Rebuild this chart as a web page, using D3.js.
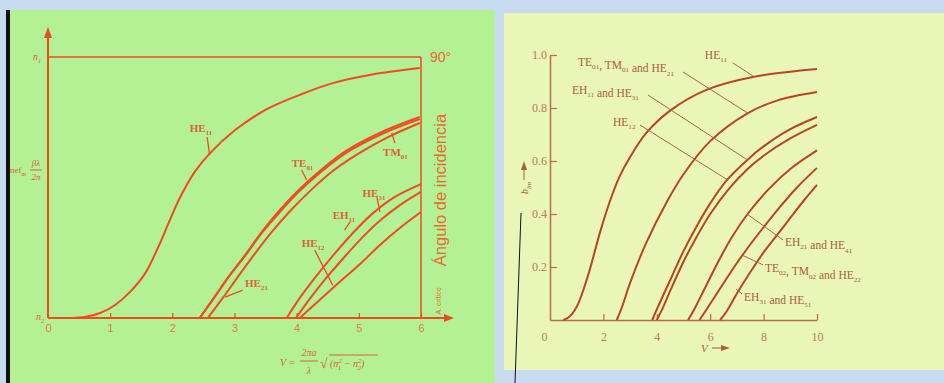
<!DOCTYPE html>
<html>
<head>
<meta charset="utf-8">
<script src="https://cdn.jsdelivr.net/npm/d3@7"></script>
<style>
  body { margin: 0; background: #c8dbf1; }
  svg { display: block; }
</style>
</head>
<body>
<div id="chart"></div>
<script>
// ---- left panel: effective index between n2 (0) and n1 (1) vs V ----
const leftTicks = [0, 1, 2, 3, 4, 5, 6];
const leftHE11 = [[0,0],[0.35,0],[0.59,0.004],[0.84,0.019],[1.08,0.05],[1.32,0.10],[1.56,0.17],[1.77,0.27],[1.96,0.375],[2.12,0.46],[2.36,0.56],[2.6,0.63],[3.01,0.72],[3.52,0.8],[4.05,0.855],[4.58,0.9],[5.26,0.935],[5.98,0.958]];
const leftTE01 = [[2.44,0],[2.67,0.077],[2.89,0.153],[3.17,0.241],[3.44,0.33],[3.73,0.414],[4.05,0.494],[4.41,0.571],[4.82,0.644],[5.37,0.713],[5.98,0.77]];
const leftTM01 = [[2.44,0],[2.67,0.077],[2.89,0.153],[3.17,0.238],[3.44,0.326],[3.73,0.406],[4.05,0.487],[4.41,0.563],[4.82,0.636],[5.37,0.705],[5.98,0.762]];
const leftHE21 = [[2.57,0],[2.8,0.073],[3.04,0.153],[3.31,0.241],[3.6,0.33],[3.91,0.414],[4.23,0.49],[4.58,0.563],[4.98,0.628],[5.47,0.693],[5.98,0.747]];
const leftEH11 = [[3.84,0],[4.05,0.077],[4.29,0.153],[4.58,0.238],[4.89,0.322],[5.21,0.398],[5.58,0.464],[6,0.513]];
const leftHE31 = [[3.99,0],[4.21,0.073],[4.45,0.146],[4.74,0.226],[5.05,0.307],[5.37,0.379],[5.69,0.437],[6,0.483]];
const leftHE12 = [[4.05,0],[4.37,0.069],[4.69,0.138],[5.02,0.207],[5.34,0.28],[5.66,0.345],[6,0.406]];

// labels: [base, sub, V, b] and leaders [V1,b1,V2,b2]
const leftLabels = [["HE","11",2.28,0.728],["TE","01",3.92,0.594],["TM","01",5.39,0.636],["HE","31",5.06,0.479],["EH","11",4.58,0.395],["HE","12",4.08,0.287],["HE","21",3.17,0.134]];
const leftLeaders = [[2.56,0.693,2.6,0.625],[4.08,0.567,4.16,0.529],[5.58,0.67,5.53,0.709],[5.29,0.464,5.34,0.406],[4.86,0.368,4.77,0.337],[4.29,0.26,4.58,0.126],[3.13,0.107,2.85,0.08]];

// ---- right panel: normalized propagation constant b vs V ----
const rightXTicks = [0, 2, 4, 6, 8, 10];
const rightYTicks = [0.2, 0.4, 0.6, 0.8, 1.0];
const rightHE11 = [[0.5,0],[0.7,0.01],[1.0,0.05],[1.4,0.16],[1.9,0.34],[2.25,0.45],[2.6,0.54],[3,0.615],[3.6,0.705],[4.5,0.79],[5.9,0.87],[7.6,0.917],[10,0.947]];
const rightTE01 = [[2.5,0],[2.7,0.05],[3.0,0.14],[3.6,0.29],[4.4,0.45],[5,0.55],[6,0.675],[7.4,0.78],[8.5,0.828],[10,0.86]];
const rightEH11 = [[3.83,0],[4.0,0.04],[4.5,0.15],[5,0.26],[5.5,0.355],[6,0.44],[6.6,0.525],[7.4,0.605],[8,0.655],[9,0.72],[10,0.766]];
const rightHE12 = [[4.0,0],[4.2,0.04],[4.5,0.11],[5,0.22],[5.5,0.315],[6,0.4],[6.7,0.495],[7.4,0.57],[8,0.62],[9,0.685],[10,0.736]];
const rightEH21 = [[5.17,0],[5.4,0.04],[5.8,0.12],[6.3,0.22],[6.8,0.31],[7.4,0.4],[8.2,0.495],[9,0.57],[10,0.64]];
const rightTE02 = [[5.6,0],[5.8,0.03],[6.25,0.1],[7.0,0.215],[7.5,0.285],[8,0.35],[8.6,0.425],[9.25,0.5],[10,0.574]];
const rightEH31 = [[6.37,0],[6.6,0.03],[7.0,0.1],[7.5,0.18],[8,0.255],[8.5,0.32],[9,0.385],[9.5,0.45],[10,0.51]];

const rightLabels = [
  [["HE","11"]],
  [["TE","01"],[", TM","01"],[" and HE","21"]],
  [["EH","11"],[" and HE","31"]],
  [["HE","12"]],
  [["EH","21"],[" and HE","41"]],
  [["TE","02"],[", TM","02"],[" and HE","22"]],
  [["EH","31"],[" and HE","51"]]
];
const rightLabelPos = [[5.8,1.0],[1.05,0.974],[0.82,0.868],[2.36,0.747],[8.8,0.294],[8.05,0.196],[7.27,0.087]];
const rightLeaders = [[6.85,0.97,7.6,0.921],[4.98,0.936,7.42,0.78],[3.67,0.849,7.38,0.605],[3.37,0.736,6.63,0.53],[8.73,0.302,7.38,0.4],[7.98,0.208,7.19,0.245],[7.19,0.098,6.97,0.117]];

const W = 944, H = 383;
const svg = d3.select('#chart').append('svg').attr('width', W).attr('height', H);

// backgrounds
svg.append('rect').attr('x', 0).attr('y', 0).attr('width', W).attr('height', H).attr('fill', '#c8dbf1');
svg.append('rect').attr('x', 10).attr('y', 10).attr('width', 485).attr('height', 373).attr('fill', '#b3f194');
svg.append('rect').attr('x', 6).attr('y', 10).attr('width', 4).attr('height', 373).attr('fill', '#111');
svg.append('rect').attr('x', 504).attr('y', 13).attr('width', 440).attr('height', 357).attr('fill', '#e9f6b8');

// ---------- left panel ----------
const lc = '#ef4b20', lt = '#dc6238';
const xL = d3.scaleLinear().domain([0, 6]).range([48, 421]);
const yL = d3.scaleLinear().domain([0, 1]).range([318, 57]);
const L = svg.append('g');

// frame: n1 line, right edge, axes with arrows
L.append('line').attr('x1', xL(0)).attr('x2', xL(6)).attr('y1', yL(1)).attr('y2', yL(1)).attr('stroke', lc).attr('stroke-width', 1.5);
L.append('line').attr('x1', xL(6)).attr('x2', xL(6)).attr('y1', yL(1)).attr('y2', yL(0)).attr('stroke', lc).attr('stroke-width', 1.5);
L.append('line').attr('x1', xL(0)).attr('x2', 448).attr('y1', yL(0)).attr('y2', yL(0)).attr('stroke', lc).attr('stroke-width', 2);
L.append('path').attr('d', `M454,${yL(0)} L444,${yL(0) - 4} L444,${yL(0) + 4} Z`).attr('fill', lc);
L.append('line').attr('x1', xL(0)).attr('x2', xL(0)).attr('y1', yL(0)).attr('y2', 34).attr('stroke', lc).attr('stroke-width', 2);
L.append('path').attr('d', `M${xL(0)},27 L${xL(0) - 4},38 L${xL(0) + 4},38 Z`).attr('fill', lc);

const axL = L.append('g').attr('transform', `translate(0,${yL(0)})`)
  .call(d3.axisBottom(xL).tickValues(leftTicks).tickFormat(d3.format('d')).tickSizeInner(-5).tickSizeOuter(0).tickPadding(6));
axL.select('.domain').remove();
axL.selectAll('line').attr('stroke', lc).attr('stroke-width', 1.2);
axL.selectAll('text').attr('fill', '#e07a50').style('font-family', 'Liberation Sans, Arial').style('font-size', '11px');

const lineL = d3.line().x(d => xL(d[0])).y(d => yL(d[1])).curve(d3.curveCatmullRom.alpha(0.5));
[leftHE11, leftTE01, leftTM01, leftHE21, leftEH11, leftHE31, leftHE12].forEach(s => {
  L.append('path').attr('d', lineL(s)).attr('fill', 'none').attr('stroke', lc).attr('stroke-width', 2);
});

function subLabel(g, x, y, parts, opts) {
  const t = g.append('text').attr('x', x).attr('y', y)
    .attr('fill', opts.color).style('font-family', 'Liberation Serif, Times New Roman')
    .style('font-size', opts.size + 'px').style('font-weight', opts.weight || 'normal');
  parts.forEach(p => {
    t.append('tspan').text(p[0]);
    t.append('tspan').attr('dy', opts.size * 0.28).style('font-size', (opts.size * 0.62) + 'px').text(p[1]);
    t.append('tspan').attr('dy', -opts.size * 0.28).text('');
  });
  return t;
}

leftLabels.forEach(d => subLabel(L, xL(d[2]), yL(d[3]) + 4, [[d[0], d[1]]], { color: lt, size: 11, weight: 'bold' }));
leftLeaders.forEach(d => {
  L.append('line').attr('x1', xL(d[0])).attr('y1', yL(d[1])).attr('x2', xL(d[2])).attr('y2', yL(d[3]))
    .attr('stroke', lc).attr('stroke-width', 1.3);
});

// axis texts
subLabel(L, 33, yL(1) + 3, [['n', '1']], { color: lt, size: 10 }).style('font-style', 'italic');
subLabel(L, 36, yL(0) + 2, [['n', '2']], { color: lt, size: 10 }).style('font-style', 'italic');
subLabel(L, 10, 173, [['nef', 'm']], { color: lt, size: 9 });
L.append('text').attr('x', 36).attr('y', 166).attr('text-anchor', 'middle').attr('fill', lt)
  .style('font-family', 'Liberation Serif').style('font-size', '9px').style('font-style', 'italic').text('βλ');
L.append('line').attr('x1', 30).attr('x2', 42).attr('y1', 170).attr('y2', 170).attr('stroke', lt);
L.append('text').attr('x', 36).attr('y', 180).attr('text-anchor', 'middle').attr('fill', lt)
  .style('font-family', 'Liberation Serif').style('font-size', '9px').style('font-style', 'italic').text('2π');

L.append('text').attr('x', 430).attr('y', 62).attr('fill', '#e8692f')
  .style('font-family', 'Liberation Sans, Arial').style('font-size', '14px').text('90°');
L.append('text').attr('transform', 'translate(446,190) rotate(-90)').attr('text-anchor', 'middle')
  .attr('fill', '#e8692f').style('font-family', 'Liberation Sans, Arial').style('font-size', '16.5px').text('Ángulo de incidencia');
L.append('text').attr('transform', 'translate(441,301) rotate(-90)').attr('text-anchor', 'middle')
  .attr('fill', '#e8692f').style('font-family', 'Liberation Sans, Arial').style('font-size', '7px').text('A. crítico');

// formula V = 2πa/λ √(n1² − n2²)
const F = L.append('g').attr('fill', lt).style('font-family', 'Liberation Serif').style('font-style', 'italic').style('font-size', '10px');
F.append('text').attr('x', 280).attr('y', 366).text('V =');
F.append('text').attr('x', 309).attr('y', 356).attr('text-anchor', 'middle').text('2πa');
F.append('line').attr('x1', 300).attr('x2', 318).attr('y1', 361).attr('y2', 361).attr('stroke', lt);
F.append('text').attr('x', 309).attr('y', 374).attr('text-anchor', 'middle').text('λ');
F.append('text').attr('x', 320).attr('y', 368).style('font-style', 'normal').style('font-size', '14px').text('√');
F.append('line').attr('x1', 329).attr('x2', 378).attr('y1', 355).attr('y2', 355).attr('stroke', lt);
const ft = F.append('text').attr('x', 330).attr('y', 367);
ft.append('tspan').text('(n');
ft.append('tspan').attr('dy', -4).style('font-size', '7px').text('2');
ft.append('tspan').attr('dx', -4).attr('dy', 7).style('font-size', '7px').text('1');
ft.append('tspan').attr('dy', -3).text(' − n');
ft.append('tspan').attr('dy', -4).style('font-size', '7px').text('2');
ft.append('tspan').attr('dx', -4).attr('dy', 7).style('font-size', '7px').text('2');
ft.append('tspan').attr('dy', -3).text(')');

// ---------- right panel ----------
const rc = '#b8451f', ra = '#b0704c', rt = '#a8603f';
const xR = d3.scaleLinear().domain([0, 10]).range([550, 817]);
const yR = d3.scaleLinear().domain([0, 1]).range([320, 55]);
const R = svg.append('g');

const axRx = R.append('g').attr('transform', `translate(0,${yR(0)})`)
  .call(d3.axisBottom(xR).tickValues(rightXTicks).tickSizeInner(-6).tickSizeOuter(0).tickPadding(12));
axRx.select('.domain').attr('stroke', ra).attr('stroke-width', 1.5);
axRx.selectAll('line').attr('stroke', ra).attr('stroke-width', 1.2);
axRx.selectAll('.tick').filter(d => d === 0).select('line').remove();
axRx.selectAll('text').attr('fill', '#b08060').style('font-family', 'Liberation Serif').style('font-size', '12px');
axRx.selectAll('.tick').filter(d => d === 0).select('text').attr('dx', -6);

const axRy = R.append('g').attr('transform', `translate(${xR(0)},0)`)
  .call(d3.axisLeft(yR).tickValues(rightYTicks).tickFormat(d3.format('.1f')).tickSizeInner(-7).tickSizeOuter(0).tickPadding(3));
axRy.select('.domain').attr('stroke', ra).attr('stroke-width', 1.5);
axRy.selectAll('line').attr('stroke', ra).attr('stroke-width', 1.2);
axRy.selectAll('text').attr('fill', '#b08060').style('font-family', 'Liberation Serif').style('font-size', '12px');

const lineR = d3.line().x(d => xR(d[0])).y(d => yR(d[1])).curve(d3.curveCatmullRom.alpha(0.5));
[rightHE11, rightTE01, rightEH11, rightHE12, rightEH21, rightTE02, rightEH31].forEach(s => {
  R.append('path').attr('d', lineR(s)).attr('fill', 'none').attr('stroke', rc).attr('stroke-width', 2);
});

rightLeaders.forEach(d => {
  R.append('line').attr('x1', xR(d[0])).attr('y1', yR(d[1])).attr('x2', xR(d[2])).attr('y2', yR(d[3]))
    .attr('stroke', '#9a6a4a').attr('stroke-width', 1);
});
rightLabels.forEach((parts, i) => {
  subLabel(R, xR(rightLabelPos[i][0]), yR(rightLabelPos[i][1]) + 4, parts, { color: rt, size: 11.5 });
});

// axis names
R.append('text').attr('x', 701).attr('y', 352).attr('fill', rt)
  .style('font-family', 'Liberation Serif').style('font-style', 'italic').style('font-size', '11px').text('V');
R.append('line').attr('x1', 712).attr('x2', 724).attr('y1', 348).attr('y2', 348).attr('stroke', rt);
R.append('path').attr('d', 'M730,348 L721,345 L721,351 Z').attr('fill', rt);
const bl = R.append('text').attr('transform', 'translate(528,194) rotate(-90)').attr('fill', rt)
  .style('font-family', 'Liberation Serif').style('font-style', 'italic').style('font-size', '10px');
bl.append('tspan').text('b');
bl.append('tspan').attr('dy', 3).style('font-size', '7px').text('lm');
R.append('line').attr('x1', 524).attr('x2', 524).attr('y1', 180).attr('y2', 168).attr('stroke', rt);
R.append('path').attr('d', 'M524,161 L521,170 L527,170 Z').attr('fill', rt);

// stray pen stroke over the slide
svg.append('line').attr('x1', 521).attr('y1', 213).attr('x2', 515).attr('y2', 383).attr('stroke', '#111').attr('stroke-width', 1);
</script>
</body>
</html>
